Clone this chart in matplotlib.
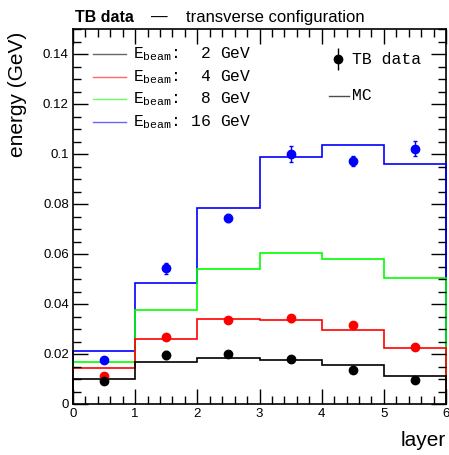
import matplotlib
matplotlib.use("Agg")
import matplotlib.pyplot as plt
import numpy as np
from matplotlib.lines import Line2D
from matplotlib.ticker import MultipleLocator, FuncFormatter

plt.rcParams['font.family'] = ['Liberation Sans', 'DejaVu Sans']
plt.rcParams['mathtext.fontset'] = 'custom'
plt.rcParams['mathtext.rm'] = 'Liberation Mono'
plt.rcParams['mathtext.it'] = 'Liberation Mono'

layer_edges = [0, 1, 2, 3, 4, 5, 6]
layer_centers = [0.5, 1.5, 2.5, 3.5, 4.5, 5.5]

# MC histograms (GeV)
mc_2 = [0.0100, 0.0169, 0.0185, 0.0177, 0.0155, 0.0111]
mc_4 = [0.0144, 0.0259, 0.0341, 0.0335, 0.0296, 0.0225]
mc_8 = [0.0167, 0.0377, 0.0539, 0.0605, 0.0580, 0.0503]
mc_16 = [0.0213, 0.0483, 0.0783, 0.0988, 0.1035, 0.0961]

# TB data
data_2 = [0.0092, 0.0196, 0.0199, 0.0179, 0.0136, 0.0095]
err_2 = [0.0005, 0.0015, 0.0006, 0.0010, 0.0005, 0.0005]
data_4 = [0.0113, 0.0267, 0.0336, 0.0343, 0.0315, 0.0229]
err_4 = [0.0005, 0.0010, 0.0006, 0.0015, 0.0006, 0.0005]
data_16 = [0.0176, 0.0543, 0.0745, 0.1001, 0.0973, 0.1021]
err_16 = [0.0005, 0.0023, 0.0016, 0.0033, 0.0020, 0.0030]

legend_labels = [r'$\mathrm{E_{beam}}$:  2 GeV', r'$\mathrm{E_{beam}}$:  4 GeV',
                 r'$\mathrm{E_{beam}}$:  8 GeV', r'$\mathrm{E_{beam}}$: 16 GeV']
colors = ['black', '#ff0000', '#00ff00', '#0000ff']

fig = plt.figure(figsize=(4.49, 4.55), dpi=100)
ax = fig.add_axes([73/449, 1-404/455, 373/449, 375/455])

# histograms: drawn blue, green, red, black (black on top)
for vals, col in [(mc_16, colors[3]), (mc_8, colors[2]), (mc_4, colors[1]), (mc_2, colors[0])]:
    ax.stairs(vals, layer_edges, color=col, linewidth=1.2, baseline=0, clip_on=False)

for vals, errs, col in [(data_16, err_16, colors[3]), (data_4, err_4, colors[1]), (data_2, err_2, colors[0])]:
    ax.errorbar(layer_centers, vals, yerr=errs, fmt='o', color=col, markersize=6,
                elinewidth=1.0, capsize=1.5, capthick=1.0, zorder=5)

ax.set_xlim(0, 6)
ax.set_ylim(0, 0.15)
ax.xaxis.set_major_locator(MultipleLocator(1))
ax.xaxis.set_minor_locator(MultipleLocator(0.2))
ax.yaxis.set_major_locator(MultipleLocator(0.02))
ax.yaxis.set_minor_locator(MultipleLocator(0.005))
ax.yaxis.set_major_formatter(FuncFormatter(lambda v, p: ('%g' % round(v, 3))))
ax.xaxis.set_major_formatter(FuncFormatter(lambda v, p: ('%g' % v)))
ax.tick_params(which='both', direction='in', top=True, right=True, labelsize=9.5, width=1.0, pad=3)
ax.tick_params(which='major', length=11)
ax.tick_params(which='minor', length=6)
for s in ax.spines.values():
    s.set_linewidth(1.2)
ax.spines['right'].set_zorder(0.5)

fig.text(18/449, 1-32/455, 'energy (GeV)', fontsize=15, rotation=90, ha='center', va='top')
fig.text(446/449, 1-446/455, 'layer', fontsize=15, ha='right', va='baseline')

# title
fig.text(75/449, 1-22/455, 'TB data', fontsize=11.5, fontweight='bold', va='baseline', ha='left')
fig.text(151/449, 1-22/455, '—', fontsize=12, va='baseline', ha='left')
fig.text(186/449, 1-22/455, 'transverse configuration', fontsize=12, va='baseline', ha='left')

# legend (energy)
rows_y = [54, 77, 99, 122]
for yy, col, lab in zip(rows_y, colors, legend_labels):
    ya = (404 - yy) / 375
    ax.add_line(Line2D([(93-73)/373, (126-73)/373], [ya, ya], transform=ax.transAxes,
                       color=col, linewidth=1.0, alpha=0.6))
    ax.text((133-73)/373, ya, lab, transform=ax.transAxes, fontsize=11.8,
            family='Liberation Mono', va='center', ha='left')

# legend (TB data / MC)
ya = (404 - 59) / 375
ax.errorbar([(338-73)/373], [ya], yerr=[0.03], fmt='o', color='black', markersize=6,
            elinewidth=1.0, capsize=0, transform=ax.transAxes, clip_on=False)
ax.text((352-73)/373, ya, 'TB data', transform=ax.transAxes, fontsize=11.8,
        family='Liberation Mono', va='center', ha='left')
ya = (404 - 96) / 375
ax.add_line(Line2D([(329-73)/373, (349-73)/373], [ya, ya], transform=ax.transAxes,
                   color='black', linewidth=1.0, alpha=0.7))
ax.text((352-73)/373, ya, 'MC', transform=ax.transAxes, fontsize=11.8,
        family='Liberation Mono', va='center', ha='left')

fig.savefig('out.png', dpi=100)
